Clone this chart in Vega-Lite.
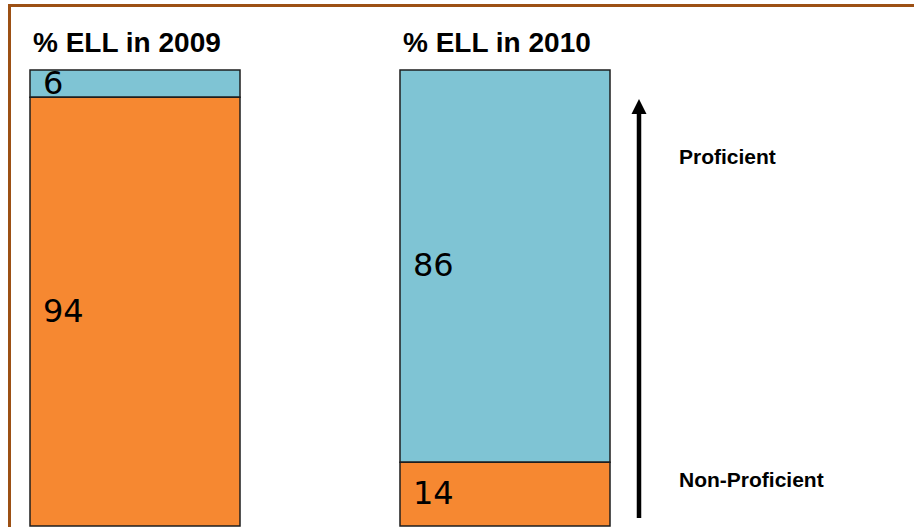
{
  "$schema": "https://vega.github.io/schema/vega-lite/v6.json",
  "width": 904.5,
  "height": 521.5,
  "autosize": {"type": "none"},
  "padding": {"left": 9.5, "top": 5.5, "right": 0, "bottom": 0},
  "background": "white",
  "config": {"view": {"stroke": null}},
  "datasets": {
    "bars": [
      {"year": "2009", "status": "Proficient", "pct": 6},
      {"year": "2009", "status": "Non-Proficient", "pct": 94},
      {"year": "2010", "status": "Proficient", "pct": 86},
      {"year": "2010", "status": "Non-Proficient", "pct": 14}
    ],
    "titles": [
      {"year": "2009", "title": "% ELL in 2009"},
      {"year": "2010", "title": "% ELL in 2010"}
    ],
    "notes": [
      {"label": "Proficient", "level": 80.7},
      {"label": "Non-Proficient", "level": 9.9}
    ]
  },
  "layer": [
    {
      "data": {"name": "bars"},
      "mark": {"type": "bar", "stroke": "#1e1e1e", "strokeWidth": 1.5},
      "encoding": {
        "x": {"field": "year", "type": "nominal", "axis": null,
              "scale": {"domain": ["2009", "2010"], "range": [20.5, 600.5], "paddingInner": 0.43243, "paddingOuter": 0}},
        "y": {"field": "pct", "type": "quantitative", "stack": "zero", "axis": null,
              "scale": {"domain": [0, 100], "range": [520.5, 64.5], "nice": false}},
        "color": {"field": "status", "type": "nominal", "legend": null,
                  "scale": {"domain": ["Non-Proficient", "Proficient"], "range": ["#F68831", "#7FC4D4"]}},
        "order": {"field": "status", "sort": "ascending"}
      }
    },
    {
      "data": {"name": "bars"},
      "mark": {"type": "text", "align": "left", "baseline": "middle", "font": "DejaVu Sans", "fontSize": 32, "color": "black", "xOffset": 13},
      "encoding": {
        "x": {"field": "year", "type": "nominal", "bandPosition": 0},
        "y": {"field": "pct", "type": "quantitative", "stack": "zero", "bandPosition": 0.5},
        "order": {"field": "status", "sort": "ascending"},
        "detail": {"field": "status"},
        "text": {"field": "pct", "type": "quantitative"}
      }
    },
    {
      "data": {"name": "titles"},
      "mark": {"type": "text", "align": "left", "baseline": "alphabetic", "font": "Liberation Sans", "fontWeight": "bold", "fontSize": 28, "color": "black", "xOffset": 3, "dy": -18},
      "encoding": {
        "x": {"field": "year", "type": "nominal", "bandPosition": 0},
        "y": {"datum": 100, "type": "quantitative"},
        "text": {"field": "title"}
      }
    },
    {
      "data": {"values": [{}]},
      "mark": {"type": "rule", "color": "black", "strokeWidth": 4.5, "xOffset": 239},
      "encoding": {
        "x": {"datum": "2010", "type": "nominal", "bandPosition": 0},
        "y": {"datum": 1.75, "type": "quantitative"},
        "y2": {"datum": 91.7}
      }
    },
    {
      "data": {"values": [{}]},
      "mark": {"type": "point", "shape": "M0,-1L1,1L-1,1Z", "size": 225, "filled": true, "color": "black", "opacity": 1, "xOffset": 239},
      "encoding": {
        "x": {"datum": "2010", "type": "nominal", "bandPosition": 0},
        "y": {"datum": 92, "type": "quantitative"}
      }
    },
    {
      "data": {"name": "notes"},
      "mark": {"type": "text", "align": "left", "baseline": "middle", "font": "Liberation Sans", "fontWeight": "bold", "fontSize": 21, "color": "black", "xOffset": 279},
      "encoding": {
        "x": {"datum": "2010", "type": "nominal", "bandPosition": 0},
        "y": {"field": "level", "type": "quantitative"},
        "text": {"field": "label"}
      }
    },
    {
      "data": {"values": [{}]},
      "mark": {"type": "rule", "color": "#9C5014", "strokeWidth": 3, "strokeCap": "square"},
      "encoding": {"x": {"value": 0}}
    },
    {
      "data": {"values": [{}]},
      "mark": {"type": "rule", "color": "#9C5014", "strokeWidth": 3, "strokeCap": "square"},
      "encoding": {"y": {"value": 0}}
    }
  ]
}
